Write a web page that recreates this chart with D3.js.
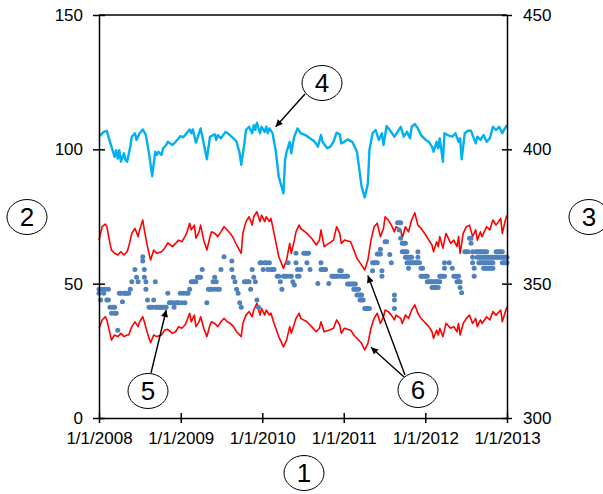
<!DOCTYPE html>
<html>
<head>
<meta charset="utf-8">
<script src="https://cdn.jsdelivr.net/npm/d3@7"></script>
<style>
  body { margin: 0; background: #fff; }
  svg { display: block; }
  text { font-family: "Liberation Sans", Arial, sans-serif; }
</style>
</head>
<body>
<svg id="chart" width="603" height="494"></svg>
<script>
// ---- data ---------------------------------------------------------------
// Weekly series; positions are week offsets from 1/1/2008.
const xTickYears = [2008, 2009, 2010, 2011, 2012, 2013];
const leftTicks = [0, 50, 100, 150];
const rightTicks = [300, 350, 400, 450];

// Cyan series (right axis)
const cyanWeeks = [0,3,5,6,8,10,11,12,13,14,16,17,18,20,21,23,24,26,28,30,32,34,36,37,38,40,41,43,44,47,
  49,51,52,54,56,58,59,60,62,64,65,67,69,71,73,74,75,76,78,81,83,86,88,90,91,93,94,96,98,99,
  100,101,103,104,106,107,108,109,111,113,115,118,119,120,122,123,124,125,127,129,132,135,138,140,142,143,146,148,150,152,
  154,155,157,159,162,164,165,166,168,170,172,173,175,177,179,181,182,184,186,189,191,193,195,197,199,200,202,204,206,209,
  211,213,214,216,217,218,220,221,223,226,228,230,231,232,234,236,238,241,242,244,246,248,250,252,254,256,258,259,261];
const cyanValues = [404.7,406.5,406.9,404.7,401.0,397.2,399.7,396.6,399.7,395.4,398.5,396.0,395.4,401.0,404.7,406.0,403.5,406.0,407.4,405.3,398.5,390.0,399.1,397.9,399.1,397.9,400.4,401.6,402.8,401.6,
  402.8,404.1,404.9,404.5,406.0,407.4,406.0,407.4,402.5,406.0,407.8,402.2,396.3,404.7,405.3,405.6,403.5,405.3,404.1,406.5,405.7,404.1,402.8,398.5,394.2,402.2,407.2,408.4,406.0,409.0,
  407.2,409.9,406.0,408.4,406.5,408.4,406.0,407.8,406.0,399.7,389.8,383.6,396.0,399.1,402.8,398.5,402.2,404.9,407.8,406.0,405.3,404.1,402.8,401.0,405.3,402.8,400.4,401.0,402.8,406.2,
  405.6,402.2,402.8,403.7,402.8,400.4,399.1,394.8,386.1,382.1,387.3,399.7,406.0,407.2,403.5,406.0,401.6,408.7,407.2,404.7,406.5,408.4,404.7,406.5,404.1,408.4,409.4,407.8,405.3,403.5,
  402.8,401.0,399.1,402.8,400.4,404.1,395.4,406.0,405.3,404.7,406.0,402.8,404.1,396.3,406.0,406.9,406.9,402.2,404.7,403.5,405.3,402.8,404.1,408.4,407.2,408.4,406.0,407.2,409.0];

// Red upper and lower bands (left axis)
const redWeeks = [0,2,4,5,7,8,10,12,14,16,18,19,21,23,25,26,28,29,31,33,35,37,40,42,44,47,49,51,53,55,
  56,58,59,61,62,64,65,67,69,71,72,74,76,78,80,82,84,86,88,91,92,94,96,98,99,101,103,104,106,107,
  109,110,112,115,118,120,122,123,125,126,128,129,133,136,139,141,142,144,147,150,152,154,155,157,161,163,165,168,170,172,
  174,176,178,180,182,183,185,187,189,190,193,194,196,198,200,202,204,206,209,211,213,214,216,217,218,220,222,225,227,229,
  230,231,233,235,237,239,241,242,244,245,248,250,252,254,257,258,260,261];
const redUpper = [66.2,71.2,72.2,71.2,65.0,62.5,61.3,60.7,61.9,60.7,61.9,63.8,68.7,70.6,67.5,70.0,73.7,70.0,63.8,58.8,62.5,61.3,61.9,63.2,65.2,63.8,65.0,66.2,65.6,67.5,
  68.7,72.5,70.0,71.8,66.9,69.3,71.8,66.2,62.5,67.5,69.3,68.7,67.5,69.3,71.2,70.0,68.7,66.9,64.4,61.3,68.7,73.1,74.9,71.8,74.9,76.8,73.1,75.5,73.1,74.9,
  73.1,74.3,68.7,60.0,55.7,58.8,65.0,61.3,66.2,69.3,71.8,70.6,68.7,66.9,64.4,66.2,70.0,63.8,65.0,66.2,71.2,68.7,65.0,66.2,65.6,62.5,59.4,56.9,55.1,58.8,
  66.2,71.2,72.5,67.5,70.6,74.9,73.7,71.8,69.3,71.2,70.0,66.9,71.2,69.3,73.7,76.4,71.8,70.6,68.1,66.2,64.4,61.9,65.6,63.8,67.5,63.2,68.7,65.0,66.2,63.8,
  67.5,61.3,68.7,71.2,71.8,67.5,70.0,66.2,69.3,67.5,71.2,70.0,73.7,71.8,74.3,68.7,73.7,75.5];
const redLower = [33.4,36.5,37.7,36.5,31.5,29.0,30.9,30.3,31.5,30.3,30.9,30.9,34.0,35.8,34.0,35.8,37.7,35.8,31.5,28.0,30.9,30.3,30.9,32.7,33.0,31.5,32.1,34.0,33.4,34.6,
  35.8,39.0,35.8,38.3,34.0,35.8,37.7,33.4,30.3,34.6,35.8,35.2,34.0,35.8,37.1,35.8,35.2,34.0,32.1,30.3,35.2,38.3,39.6,37.7,40.2,42.7,38.3,40.8,38.3,40.2,
  38.3,39.0,35.2,30.3,26.5,29.0,34.0,31.5,35.2,37.1,39.0,37.1,35.8,34.0,32.1,33.4,35.8,32.1,32.7,33.4,36.5,34.6,31.5,33.4,32.7,30.9,29.7,27.8,25.3,27.8,
  33.4,37.1,39.0,35.2,37.7,40.2,39.6,38.3,36.5,38.3,37.1,35.2,38.3,37.1,40.2,42.1,39.0,37.1,35.2,34.0,32.1,29.7,32.7,30.9,33.4,30.3,35.2,33.4,34.0,32.1,
  35.2,30.9,35.2,37.1,38.3,35.2,37.1,34.0,36.5,35.2,37.7,36.5,39.6,38.3,40.2,35.8,39.6,41.4];

// Blue weekly observations (left axis): [week, value]
const blueDots = [
  [0,47.9],[0,46.4],[1,43.9],[2,47.9],[3,46.4],[4,47.9],[5,43.9],[6,43.9],[6,47.9],
  [7,41.2],[8,39.0],[9,41.2],[10,39.0],[10,41.2],[11,39.0],[12,32.7],
  [13,46.4],[14,46.4],[15,43.3],[16,46.4],[17,46.4],[18,46.4],[19,46.4],[20,47.9],[21,50.7],
  [23,55.3],[24,52.4],[25,50.7],
  [28,60.0],[28,58.4],[29,55.3],[29,52.4],[30,50.7],[30,47.9],
  [31,43.9],[32,41.2],[33,41.2],[34,41.2],[35,43.9],[36,41.2],[36,50.7],[37,41.2],[38,41.2],[39,41.2],[40,41.2],[41,41.2],[42,41.2],[43,41.2],
  [44,46.4],[45,42.9],[46,42.9],[47,42.9],[48,41.2],[49,42.9],[50,42.9],[51,42.9],[52,46.4],[53,42.9],[54,46.4],[55,42.9],[56,46.4],[57,46.4],[58,47.9],
  [59,50.7],[60,50.7],[61,50.7],[62,50.7],[63,52.4],[64,52.4],[65,52.4],[66,55.3],
  [69,42.9],[70,47.9],[71,47.9],[72,47.9],[73,50.7],[74,52.4],[74,47.9],[75,50.7],[76,47.9],[77,47.9],
  [78,55.3],[80,60.0],[85,58.4],[85,55.3],[86,52.4],[87,50.7],[88,47.9],[89,46.4],[90,42.9],[91,41.2],
  [93,50.7],[94,50.7],[95,50.7],[96,50.7],[97,47.9],[98,55.3],[99,52.4],[100,50.7],[101,43.9],[102,41.2],
  [103,57.8],[104,57.8],[105,55.3],[106,57.8],[107,57.8],[108,55.3],[109,57.8],[110,55.3],[111,55.3],[112,55.3],
  [114,52.8],[115,52.8],[116,50.7],[117,47.9],[118,52.8],[119,52.8],[120,52.8],[121,57.8],[122,52.8],[123,52.8],[124,50.7],[125,49.5],[126,61.3],[126,57.8],[127,55.3],[127,52.8],
  [128,52.8],[129,55.3],[131,61.3],[132,61.3],[133,61.3],[133,57.8],[134,61.3],[135,55.3],
  [140,50.1],[142,57.8],[142,55.3],[143,55.3],[144,55.3],[145,55.3],[147,50.1],
  [149,52.8],[150,52.8],[151,52.8],[152,52.8],[153,52.8],
  [154,54.8],[155,54.8],[155,52.8],[156,52.8],[157,52.8],[158,52.8],[159,52.8],
  [159,49.9],[160,49.9],[161,49.9],[162,49.9],[163,49.9],[164,49.9],
  [163,47.9],[164,47.9],[165,47.9],[166,47.9],
  [165,45.8],[166,45.8],[167,45.8],[168,45.8],
  [167,43.9],[168,43.9],[169,43.9],
  [170,40.8],[171,40.8],[172,40.8],[173,40.8],
  [175,54.8],[175,57.8],[176,57.8],[177,57.8],[178,57.8],
  [178,61.0],[179,61.0],[180,61.0],[180,62.8],
  [181,54.8],[181,52.8],[183,65.6],[184,65.6],[186,60.9],[187,57.8],
  [189,45.8],[189,43.9],[189,40.8],
  [191,72.7],[192,72.7],[193,72.7],[192,70.0],[193,66.9],[194,65.0],[195,65.0],[196,65.0],
  [194,61.9],[195,61.9],[196,61.9],[197,61.9],
  [196,59.8],[197,59.8],[198,59.8],[199,59.8],[200,59.8],
  [197,57.8],[198,57.8],[199,57.8],[200,57.8],[198,55.7],
  [201,57.8],[202,57.8],[203,57.8],[204,57.8],[205,57.8],[204,61.9],[204,59.8],
  [206,55.7],[207,55.7],
  [206,52.8],[207,52.8],[208,52.8],[209,52.8],[210,52.8],
  [210,50.7],[211,50.7],[212,50.7],[213,50.7],[214,50.7],[215,50.7],[216,50.7],[217,50.7],[218,50.7],
  [213,48.6],[214,48.6],[215,48.6],[216,48.6],[217,48.6],
  [218,52.8],[219,52.8],[220,52.8],[221,52.8],[221,57.8],[221,55.7],
  [224,57.8],[226,55.7],[227,52.8],[228,52.8],[229,52.8],[230,52.8],
  [229,50.7],[230,50.7],[231,50.7],[231,48.6],[232,46.6],
  [234,61.9],[235,61.9],[236,61.9],[237,66.9],[238,66.9],[238,65.0],
  [239,61.9],[239,59.8],[239,57.8],[240,55.7],[240,52.8],
  [241,61.9],[242,61.9],[243,61.9],[244,61.9],[245,61.9],[246,61.9],[247,61.9],[248,61.9],
  [242,59.8],[243,59.8],[244,59.8],[245,59.8],[246,59.8],[247,59.8],[248,59.8],[249,59.8],[250,59.8],[251,59.8],
  [243,57.8],[244,57.8],[245,57.8],[246,57.8],[247,57.8],[248,57.8],[249,57.8],[250,57.8],[251,57.8],[252,57.8],
  [246,55.7],[247,55.7],[248,55.7],[249,55.7],[250,55.7],[251,55.7],[252,55.7],
  [252,59.8],[253,59.8],[254,59.8],[255,59.8],[256,59.8],[257,59.8],[258,59.8],[259,59.8],[260,59.8],[261,59.8],
  [254,61.9],[255,61.9],[256,61.9],[257,61.9],[258,61.9],
  [258,57.8],[259,57.8],[260,57.8],[261,57.8]
];

// Numbered callouts: label, ellipse centre, arrow start, arrow target (week, value, axis)
const callouts = [
  { label: "1", cx: 304, cy: 473 },
  { label: "2", cx: 27,  cy: 217 },
  { label: "3", cx: 589, cy: 217 },
  { label: "4", cx: 322, cy: 83,  arrows: [{ from: [305, 94],  week: 113, value: 408.4, axis: "right" }] },
  { label: "5", cx: 148, cy: 391, arrows: [{ from: [151, 373], week: 43,  value: 40.2,  axis: "left" }] },
  { label: "6", cx: 418, cy: 390, arrows: [{ from: [405, 375], week: 172, value: 53.0,  axis: "left" },
                                           { from: [404, 377], week: 174, value: 26.3,  axis: "left" }] }
];

// ---- scales ---------------------------------------------------------------
const plot = { left: 99, right: 507, top: 15, bottom: 418 };
const t0 = Date.UTC(2008, 0, 1);
const weekDate = w => new Date(t0 + w * 7 * 864e5);

const x = d3.scaleUtc()
  .domain([new Date(Date.UTC(2008, 0, 1)), new Date(Date.UTC(2013, 0, 1))])
  .range([plot.left, plot.right]);
const yL = d3.scaleLinear().domain([0, 150]).range([plot.bottom, plot.top]);
const yR = d3.scaleLinear().domain([300, 450]).range([plot.bottom, plot.top]);

const svg = d3.select("#chart");
svg.append("rect").attr("width", 603).attr("height", 494).attr("fill", "#fff");

// ---- series ---------------------------------------------------------------
const lineL = d3.line().x(d => x(weekDate(d[0]))).y(d => yL(d[1]));
const lineR = d3.line().x(d => x(weekDate(d[0]))).y(d => yR(d[1]));

svg.append("path")
  .datum(redWeeks.map((w, i) => [w, redUpper[i]]))
  .attr("d", lineL).attr("fill", "none").attr("stroke", "#ff0000")
  .attr("stroke-width", 1.6).attr("stroke-linejoin", "round");
svg.append("path")
  .datum(redWeeks.map((w, i) => [w, redLower[i]]))
  .attr("d", lineL).attr("fill", "none").attr("stroke", "#ff0000")
  .attr("stroke-width", 1.6).attr("stroke-linejoin", "round");

svg.append("g").selectAll("circle").data(blueDots).join("circle")
  .attr("cx", d => x(weekDate(d[0])))
  .attr("cy", d => yL(d[1]))
  .attr("r", 2.5)
  .attr("fill", "#4f81bd");

svg.append("path")
  .datum(cyanWeeks.map((w, i) => [w, cyanValues[i]]))
  .attr("d", lineR).attr("fill", "none").attr("stroke", "#00b0f0")
  .attr("stroke-width", 2.4).attr("stroke-linejoin", "round");

// ---- axes -----------------------------------------------------------------
function styleAxis(g) {
  g.attr("font-family", "'Liberation Sans', Arial, sans-serif").attr("font-size", 17);
  g.select(".domain").attr("stroke", "#000").attr("stroke-width", 1.5);
  g.selectAll(".tick line").attr("stroke", "#000").attr("stroke-width", 1.5);
  g.selectAll(".tick text").attr("fill", "#000");
}

const gL = svg.append("g").attr("transform", `translate(${plot.left},0)`)
  .call(d3.axisLeft(yL).tickValues(leftTicks).tickSize(6).tickSizeOuter(0).tickPadding(10));
gL.selectAll(".tick line").attr("x1", 6);
styleAxis(gL);

const gR = svg.append("g").attr("transform", `translate(${plot.right},0)`)
  .call(d3.axisRight(yR).tickValues(rightTicks).tickSize(5).tickSizeOuter(0).tickPadding(11));
gR.selectAll(".tick line").attr("x1", -5);
styleAxis(gR);

const gB = svg.append("g").attr("transform", `translate(0,${plot.bottom})`)
  .call(d3.axisBottom(x)
    .tickValues(xTickYears.map(yv => new Date(Date.UTC(yv, 0, 1))))
    .tickFormat(d => `1/1/${d.getUTCFullYear()}`)
    .tickSize(5).tickSizeOuter(0).tickPadding(9));
gB.selectAll(".tick line").attr("y1", -5);
styleAxis(gB);

svg.append("line")
  .attr("x1", plot.left).attr("x2", plot.right)
  .attr("y1", plot.top).attr("y2", plot.top)
  .attr("stroke", "#000").attr("stroke-width", 1.5);

// ---- callouts -------------------------------------------------------------
svg.append("defs").append("marker")
  .attr("id", "head").attr("viewBox", "0 0 10 10")
  .attr("refX", 10).attr("refY", 5)
  .attr("markerWidth", 9).attr("markerHeight", 7)
  .attr("markerUnits", "userSpaceOnUse")
  .attr("orient", "auto")
  .append("path").attr("d", "M0,0L10,5L0,10z").attr("fill", "#000");

const gC = svg.append("g");
callouts.forEach(c => {
  (c.arrows || []).forEach(a => {
    const ys = a.axis === "right" ? yR : yL;
    gC.append("line")
      .attr("x1", a.from[0]).attr("y1", a.from[1])
      .attr("x2", x(weekDate(a.week))).attr("y2", ys(a.value))
      .attr("stroke", "#000").attr("stroke-width", 1.4)
      .attr("marker-end", "url(#head)");
  });
  gC.append("ellipse")
    .attr("cx", c.cx).attr("cy", c.cy).attr("rx", 20).attr("ry", 17.5)
    .attr("fill", "#fff").attr("stroke", "#000").attr("stroke-width", 1);
  gC.append("text")
    .attr("x", c.cx).attr("y", c.cy).attr("dy", "0.36em")
    .attr("text-anchor", "middle").attr("font-size", 26).attr("fill", "#000")
    .text(c.label);
});
</script>
</body>
</html>
